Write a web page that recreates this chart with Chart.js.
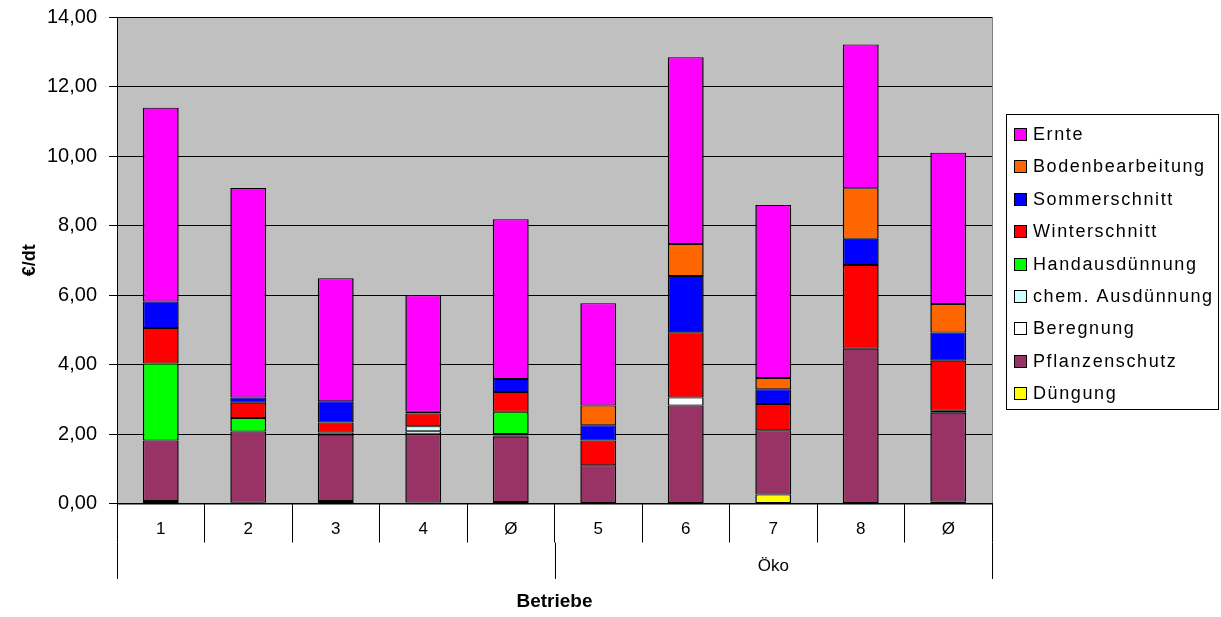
<!DOCTYPE html>
<html lang="de">
<head>
<meta charset="utf-8">
<title>Kosten je dt – Betriebe</title>
<script src="https://cdn.jsdelivr.net/npm/chart.js@4.4.1/dist/chart.umd.min.js"></script>
<style>
  html, body { margin: 0; padding: 0; background: #ffffff; }
  #wrap { position: relative; width: 1221px; height: 617px; }
</style>
</head>
<body>
<div id="wrap"><canvas id="chart"></canvas></div>
<script>
// Betriebe (konventionell 1–4 mit Mittelwert, Öko 5–8 mit Mittelwert)
const categories = ['1', '2', '3', '4', 'Ø', '5', '6', '7', '8', 'Ø'];
const groupLabels = ['', 'Öko'];
const yTicks = [0, 2, 4, 6, 8, 10, 12, 14];

// Kosten in €/dt je Arbeitsgang
const duengung        = [0.07, 0.02, 0.07, 0.03, 0.04, 0.00, 0.00, 0.26, 0.00, 0.06];
const pflanzenschutz  = [1.74, 2.05, 1.91, 1.96, 1.88, 1.10, 2.82, 1.85, 4.45, 2.55];
const beregnung       = [0.00, 0.00, 0.06, 0.09, 0.04, 0.00, 0.23, 0.00, 0.00, 0.06];
const chemAusduennung = [0.00, 0.00, 0.00, 0.14, 0.04, 0.00, 0.00, 0.00, 0.00, 0.00];
const handausduennung = [2.22, 0.39, 0.00, 0.00, 0.64, 0.00, 0.00, 0.00, 0.00, 0.00];
const winterschnitt   = [1.02, 0.44, 0.29, 0.37, 0.57, 0.71, 1.88, 0.75, 2.41, 1.44];
const sommerschnitt   = [0.76, 0.15, 0.61, 0.05, 0.37, 0.44, 1.62, 0.43, 0.76, 0.81];
const bodenbearbeitung= [0.00, 0.00, 0.00, 0.00, 0.00, 0.57, 0.92, 0.32, 1.45, 0.82];
const ernte           = [5.58, 6.03, 3.54, 3.35, 4.60, 2.94, 5.37, 4.98, 4.14, 4.35];

const FONT = "'Liberation Sans', Arial, sans-serif";

const series = [
  { label: 'Düngung',          data: duengung,         color: '#FFFF00' },
  { label: 'Pflanzenschutz',   data: pflanzenschutz,   color: '#993366' },
  { label: 'Beregnung',        data: beregnung,        color: '#FFFFFF' },
  { label: 'chem. Ausdünnung', data: chemAusduennung,  color: '#CCFFFF' },
  { label: 'Handausdünnung',   data: handausduennung,  color: '#00FF00' },
  { label: 'Winterschnitt',    data: winterschnitt,    color: '#FF0000' },
  { label: 'Sommerschnitt',    data: sommerschnitt,    color: '#0000FF' },
  { label: 'Bodenbearbeitung', data: bodenbearbeitung, color: '#FF6600' },
  { label: 'Ernte',            data: ernte,            color: '#FF00FF' }
];

// grey plot background and frame
const plotFrame = {
  id: 'plotFrame',
  beforeDraw(chart) {
    const { ctx, chartArea: a } = chart;
    ctx.save();
    ctx.fillStyle = '#C0C0C0';
    ctx.fillRect(a.left, a.top, a.right - a.left, a.bottom - a.top);
    ctx.strokeStyle = '#808080';
    ctx.lineWidth = 1;
    ctx.strokeRect(Math.round(a.left) + 0.5, Math.round(a.top) + 0.5,
                   Math.round(a.right - a.left), Math.round(a.bottom - a.top));
    ctx.restore();
  }
};

// second level of the category axis: group separators and group names
const groupAxis = {
  id: 'groupAxis',
  afterDraw(chart) {
    const { ctx, chartArea: a } = chart;
    const x = chart.scales.x;
    const mid = (x.getPixelForValue(4) + x.getPixelForValue(5)) / 2;
    const from = a.bottom + 39;
    const bottom = 579;
    ctx.save();
    ctx.strokeStyle = '#000000';
    ctx.lineWidth = 1;
    [a.left, mid, a.right].forEach(px => {
      const xx = Math.round(px) + 0.5;
      ctx.beginPath();
      ctx.moveTo(xx, from);
      ctx.lineTo(xx, bottom);
      ctx.stroke();
    });
    ctx.fillStyle = '#000000';
    ctx.font = '17px ' + FONT;
    ctx.textAlign = 'center';
    ctx.textBaseline = 'middle';
    const g1 = (x.getPixelForValue(0) + x.getPixelForValue(4)) / 2;
    const g2 = (x.getPixelForValue(5) + x.getPixelForValue(9)) / 2;
    ctx.fillText(groupLabels[0], g1, 566);
    ctx.fillText(groupLabels[1], g2, 566);
    ctx.restore();
  }
};

// framed legend on the right, top entry = top of stack
const boxLegend = {
  id: 'boxLegend',
  afterDraw(chart) {
    const { ctx } = chart;
    const left = 1006, top = 114, width = 212, height = 295;
    const rowH = 32.4, firstRow = 134;
    ctx.save();
    ctx.fillStyle = '#FFFFFF';
    ctx.fillRect(left, top, width, height);
    ctx.strokeStyle = '#000000';
    ctx.lineWidth = 1;
    ctx.strokeRect(left + 0.5, top + 0.5, width, height);
    ctx.font = '18px ' + FONT;
    ctx.textBaseline = 'middle';
    ctx.textAlign = 'left';
    if ('letterSpacing' in ctx) ctx.letterSpacing = '1.6px';
    const items = chart.data.datasets.slice().reverse();
    items.forEach((ds, i) => {
      const cy = Math.round(firstRow + i * rowH);
      ctx.fillStyle = ds.backgroundColor;
      ctx.fillRect(1014, cy - 6, 13, 13);
      ctx.strokeStyle = '#000000';
      ctx.strokeRect(1014.5, cy - 5.5, 12, 12);
      ctx.fillStyle = '#000000';
      ctx.fillText(ds.label, 1033, cy + 1);
    });
    ctx.restore();
  }
};

new Chart(document.getElementById('chart'), {
  type: 'bar',
  data: {
    labels: categories,
    datasets: series.map(s => ({
      label: s.label,
      data: s.data,
      backgroundColor: s.color,
      borderColor: '#000000',
      borderWidth: { top: 1, bottom: 1, left: 1.5, right: 1.5 },
      borderSkipped: false,
      barPercentage: 0.41,
      categoryPercentage: 1.0
    }))
  },
  options: {
    responsive: true,
    maintainAspectRatio: false,
    animation: false,
    layout: { padding: { left: 0, top: 17, right: 229, bottom: 0 } },
    plugins: {
      legend: { display: false },
      tooltip: { enabled: false }
    },
    scales: {
      x: {
        stacked: true,
        afterFit(scale) { scale.height = 113.5; },
        border: { display: true, color: '#000000', width: 1 },
        grid: {
          display: true,
          offset: true,
          drawOnChartArea: false,
          drawTicks: true,
          tickLength: 39,
          color: '#000000',
          lineWidth: 1
        },
        ticks: {
          color: '#000000',
          padding: -23,
          maxRotation: 0,
          autoSkip: false,
          font: { family: FONT, size: 17 }
        },
        title: {
          display: true,
          text: 'Betriebe',
          color: '#000000',
          padding: { top: 0, bottom: 4 },
          font: { family: FONT, size: 19, weight: 'bold' }
        }
      },
      y: {
        stacked: true,
        min: 0,
        max: 14,
        afterFit(scale) {
          scale.width = 117;
          scale.paddingTop = 0;
          scale.paddingBottom = 0;
        },
        afterBuildTicks(scale) { scale.ticks = yTicks.map(v => ({ value: v })); },
        border: { display: true, color: '#000000', width: 1 },
        grid: {
          color: '#000000',
          lineWidth: 1,
          drawTicks: true,
          tickLength: 8
        },
        ticks: {
          color: '#000000',
          padding: 12,
          font: { family: FONT, size: 20 },
          callback: v => v.toFixed(2).replace('.', ',')
        },
        title: {
          display: true,
          text: '€/dt',
          color: '#000000',
          padding: { top: 19, bottom: 0 },
          font: { family: FONT, size: 18, weight: 'bold' }
        }
      }
    }
  },
  plugins: [plotFrame, groupAxis, boxLegend]
});
</script>
</body>
</html>
